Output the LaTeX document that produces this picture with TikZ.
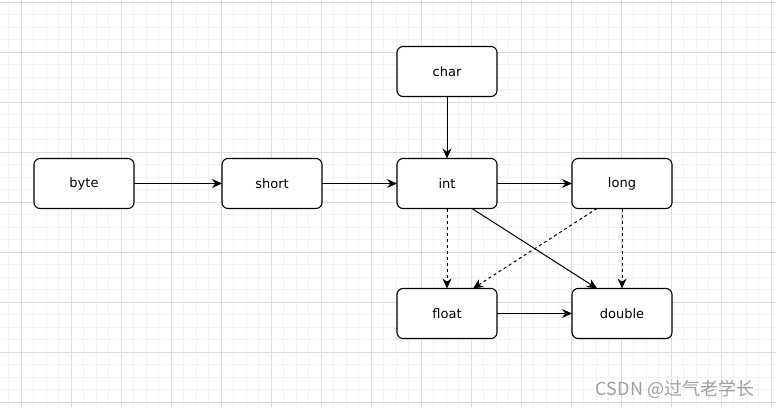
\documentclass[tikz,border=0pt]{standalone}
\usepackage{fontspec}
\setmainfont{DejaVu Sans}
\newfontfamily\cjkfont{Noto Sans CJK SC}
\usetikzlibrary{positioning,arrows.meta}

\definecolor{minorgrid}{RGB}{242,242,242}
\definecolor{majorgrid}{RGB}{220,220,220}

\begin{document}
\begin{tikzpicture}[
        x=1pt, y=-1pt,
        node distance=75pt, % Distance between boxes
        typebox/.style={draw, fill=white, rounded corners=6pt, line width=1.1pt, outer sep=0pt, minimum width=100pt, minimum height=50pt, align=center, font=\fontsize{13}{15}\selectfont}, % Box styling
        conv/.style={line width=1pt, -{Stealth[length=10pt, width=9pt]}}, % Arrow styling
        lossy/.style={conv, dash pattern=on 3pt off 3pt} % Dashed arrow styling
        ]

        % Background grid
        \useasboundingbox (0,0) rectangle (776,407);
        \fill[white] (0,0) rectangle (776,407);
        \foreach \gx in {8.5,21,...,776} \draw[minorgrid] (\gx,0) -- (\gx,407);
        \foreach \gy in {2,14.5,...,407} \draw[minorgrid] (0,\gy) -- (776,\gy);
        \foreach \gx in {21,71,...,771} \draw[majorgrid] (\gx,0) -- (\gx,407);
        \foreach \gy in {2,52,...,402} \draw[majorgrid] (0,\gy) -- (776,\gy);

        % Define nodes
        \node (byte) [typebox] at (84,183.5) {byte};
        \node (short) [typebox, right=88pt of byte] {short};
        \node (int) [typebox, right=of short] {int};
        \node (long) [typebox, right=of int] {long};
        \node (char) [typebox, above=62pt of int] {char};
        \node (float) [typebox, below=80pt of int] {float};
        \node (double) [typebox, right=of float] {double};

        % Draw arrows
        \draw[conv] (byte) -- (short);
        \draw[conv] (short) -- (int);
        \draw[conv] (int) -- (long);
        \draw[conv] (char) -- (int);
        \draw[conv] (float) -- (double);
        \draw[conv] ([xshift=25pt]int.south) -- ([xshift=-25pt]double.north);

        \draw[lossy] (int) -- (float);
        \draw[lossy] (long) -- (double);
        \draw[lossy] ([xshift=-25pt]long.south) -- ([xshift=26pt]float.north);

        % Watermark
        \node (mark) at (675,389) [text=gray!75, font=\fontsize{18}{20}\selectfont] {\cjkfont CSDN @过气老学长};

    \end{tikzpicture}
\end{document}
